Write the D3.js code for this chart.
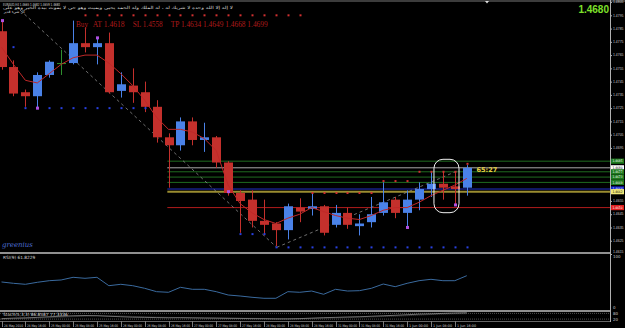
<!DOCTYPE html>
<html>
<head>
<meta charset="utf-8">
<script src="https://d3js.org/d3.v7.min.js"></script>
<style>
body { margin: 0; background: #000; }
svg { display: block; }
</style>
</head>
<body>
<div id="chart"></div>
<script>
// EURAUD H4 candles
var opens  = [1.4783,1.4756,1.4737,1.4734,1.4750,1.4759,1.4759,1.4774,1.4771,1.4774,
              1.4738,1.4742,1.4737,1.4726,1.4703,1.4697,1.4715,1.4701,1.4703,1.4684,
              1.4661,1.4656,1.4640,1.4638,1.4633,1.4650,1.4649,1.4651,1.4637,1.4646,
              1.4636,1.4639,1.4646,1.4656,1.4646,1.4656,1.4664,1.4668,1.4666,1.4665];
var highs  = [1.4791,1.4761,1.4739,1.4752,1.4761,1.4769,1.4791,1.4786,1.4778,1.4782,
              1.4752,1.4755,1.4745,1.4731,1.4706,1.4718,1.4718,1.4714,1.4704,1.4685,
              1.4663,1.4663,1.4656,1.4639,1.4653,1.4657,1.4661,1.4652,1.4652,1.4650,
              1.4645,1.4658,1.4669,1.4658,1.4663,1.4669,1.4677,1.4677,1.4677,1.4682];
var lows   = [1.4754,1.4734,1.4726,1.4725,1.4748,1.4750,1.4758,1.4767,1.4758,1.4736,
              1.4733,1.4729,1.4722,1.4699,1.4665,1.4693,1.4697,1.4692,1.4680,1.4659,
              1.4631,1.4635,1.4629,1.4621,1.4626,1.4639,1.4644,1.4629,1.4635,1.4634,
              1.4629,1.4635,1.4644,1.4642,1.4635,1.4648,1.4658,1.4656,1.4652,1.4659];
var closes = [1.4756,1.4736,1.4734,1.4750,1.4760,1.4759,1.4774,1.4771,1.4774,1.4737,
              1.4743,1.4737,1.4726,1.4703,1.4697,1.4715,1.4701,1.4703,1.4684,1.4661,
              1.4655,1.4640,1.4637,1.4633,1.4651,1.4647,1.4651,1.4631,1.4646,1.4637,
              1.4638,1.4645,1.4654,1.4646,1.4656,1.4664,1.4668,1.4665,1.4664,1.4680];

// red moving average
var maValues = [1.4771,1.4758,1.4746,1.4744,1.4751,1.4758,1.4763,1.4765,1.4765,1.4759,
                1.4751,1.4742,1.4731,1.4718,1.4709,1.4709,1.4707,1.4702,1.4693,1.4667,
                1.4653,1.4646,1.4641,1.4638,1.4642,1.4645,1.4650,1.4647,1.4644,1.4642,
                1.4641,1.4644,1.4648,1.4650,1.4650,1.4654,1.4659,1.4663,1.4667,1.4672];

// RSI(9) and Stochastic(5,3,3)
var rsiValues = [50.5,48.1,46.3,49.9,52.8,54.1,58.9,57.1,58.9,43.8,
                 46.3,43.8,39.1,33.0,31.9,40.9,37.3,37.3,33.0,27.0,
                 25.2,22.9,21.1,21.1,33.0,31.9,34.2,28.3,37.3,34.2,
                 34.8,39.1,46.8,42.0,48.1,52.8,55.3,52.8,52.8,61.8];
var stochMain = [25,30,33,38,45,50,55,58,56,50,45,40,38,36,34,35,33,31,30,28,
                 27,25,24,22,22,25,30,35,38,42,45,50,55,60,66,72,75,80,84,87];
var stochSignal = [20,24,28,32,36,40,46,50,54,54,52,48,44,40,38,36,35,34,32,31,
                   29,28,26,24,24,24,26,30,33,36,40,43,47,51,56,62,68,72,76,77];

// marker rows [first bar, last bar, price]
var redDots = [[7,25,1.4795],[26,31,1.4661],[32,34,1.4670],[35,38,1.4677],[39,39,1.4683]];
var blueDots = [[1,1,1.4771],[2,12,1.4725],[20,22,1.4630],[23,39,1.4620]];
var purpleDots = [[0,1.4791],[3,1.4725],[8,1.4778],[19,1.4662],[34,1.4635],[38,1.4652]];

// dashed trend lines [bar, price]
var trendDown = [[1.55,1.4799],[23.07,1.4620]];
var trendUp = [[23.07,1.4620],[38.3,1.4678]];

// horizontal levels
var levelPrices = [1.4685,1.4680,1.4677,1.4673,1.4669,1.4664,1.4662,1.4650];
var levelColors = ["#1f6b1f","#a8a8a8","#1f6b1f","#1f6b1f","#1f6b1f","#2030c8","#9a8c30","#b01c1c"];
var labelFills  = ["#1e7a1e","#ffffff","#1e7a1e","#1e7a1e","#1e7a1e","#1428d0","#f0e87a","#e01e1e"];

// visible price labels (the ones under the level boxes are hidden in the picture)
var priceTicks = [1.4805,1.4795,1.4785,1.4775,1.4765,1.4755,1.4745,1.4735,1.4725,1.4715,
                  1.4705,1.4695,1.4655,1.4645,1.4635,1.4625,1.4615];
var timeLabels = ["24 May 2010","24 May 16:00","25 May 00:00","25 May 08:00","25 May 16:00",
                  "26 May 00:00","26 May 08:00","26 May 16:00","27 May 00:00","27 May 08:00",
                  "27 May 16:00","28 May 00:00","28 May 08:00","28 May 16:00","31 May 00:00",
                  "31 May 08:00","31 May 16:00","1 Jun 00:00","1 Jun 08:00","1 Jun 16:00"];

var svgWidth = 625;
var svgHeight = 328;
var axisX = 610;

var svg = d3.select("#chart")
    .append("svg")
    .attr("width", svgWidth)
    .attr("height", svgHeight)
    .style("font-family", "DejaVu Sans, sans-serif");

svg.append("rect").attr("width", svgWidth).attr("height", svgHeight).attr("fill", "#000");
svg.append("rect").attr("width", svgWidth).attr("height", 2).attr("fill", "#3c3c3c");

// scales
var x = d3.scaleLinear().domain([0, 51]).range([1.5, 1.5 + 51 * 11.93]);
var y = d3.scaleLinear().domain([1.4615, 1.4805]).range([254, 2.06]);
var yRsi = d3.scaleLinear().domain([0, 100]).range([310, 254.5]);
var yStoch = d3.scaleLinear().domain([0, 100]).range([321, 311.5]);

var bars = d3.range(opens.length).map(function(i) {
    return {i: i, o: opens[i], h: highs[i], l: lows[i], c: closes[i]};
});

var main = svg.append("g");

// horizontal levels
levelPrices.forEach(function(p, k) {
    main.append("line")
        .attr("x1", x(13.9)).attr("x2", axisX)
        .attr("y1", y(p)).attr("y2", y(p))
        .attr("stroke", levelColors[k])
        .attr("stroke-width", k == 6 ? 2 : 1);
});

// dashed trend lines
var trend = d3.line().x(d => x(d[0])).y(d => y(d[1]));
[trendDown, trendUp].forEach(function(t) {
    main.append("path").attr("d", trend(t))
        .attr("fill", "none").attr("stroke", "#8a8a8a")
        .attr("stroke-width", 0.8).attr("stroke-dasharray", "3,3");
});

// candles
var colorOf = function(d) {
    if (d.c > d.o) return "#4a82e8";
    if (d.c < d.o) return "#c4302c";
    return "#2e8f2e";
};
main.selectAll(".wick").data(bars).enter().append("line")
    .attr("x1", d => Math.round(x(d.i)) + 0.5).attr("x2", d => Math.round(x(d.i)) + 0.5)
    .attr("y1", d => y(d.h)).attr("y2", d => y(d.l))
    .attr("stroke", colorOf).attr("stroke-width", 1);
main.selectAll(".body").data(bars).enter().append("rect")
    .attr("x", d => Math.round(x(d.i)) - 4)
    .attr("width", 9)
    .attr("y", d => y(Math.max(d.o, d.c)))
    .attr("height", d => Math.max(1, Math.abs(y(d.o) - y(d.c))))
    .attr("fill", colorOf);

// moving average
main.append("path")
    .attr("d", d3.line().x((d, i) => x(i)).y(d => y(d))(maValues))
    .attr("fill", "none").attr("stroke", "#c02828").attr("stroke-width", 1);

// markers
function dotRows(rows, color) {
    rows.forEach(function(r) {
        d3.range(r[0], r[1] + 1).forEach(function(i) {
            main.append("rect")
                .attr("x", Math.round(x(i)) - 0.5).attr("y", y(r[2]) - 1)
                .attr("width", 2).attr("height", 2).attr("fill", color);
        });
    });
}
dotRows(redDots, "#d03030");
dotRows(blueDots, "#2840e0");
purpleDots.forEach(function(p) {
    main.append("rect")
        .attr("x", Math.round(x(p[0])) - 1).attr("y", y(p[1]) - 1.5)
        .attr("width", 3).attr("height", 3).attr("fill", "#b050e0");
});

// trade text [text, x, width]
var tradeText = [["Buy", 76, 12], ["AT 1.4618", 92.7, 32], ["SL 1.4558", 132.7, 30],
                 ["TP 1.4634 1.4649 1.4668 1.4699", 170.7, 97]];
tradeText.forEach(function(t) {
    main.append("text").attr("x", t[1]).attr("y", 26.5)
        .attr("fill", "#b01a1a")
        .style("font-family", "Liberation Serif, serif").style("font-size", "8.5px")
        .attr("textLength", t[2]).attr("lengthAdjust", "spacingAndGlyphs")
        .text(t[0]);
});

// header
svg.append("text").attr("x", 3).attr("y", 5.5)
    .attr("fill", "#d8d8d8").style("font-size", "4.2px")
    .attr("textLength", 57).attr("lengthAdjust", "spacingAndGlyphs")
    .text("EURAUD,H4  1.4665 1.4682 1.4659 1.4680");
var arabicLines = ["لا إله إلا الله وحده لا شريك له ، له الملك وله الحمد يحيي ويميت وهو حي لا يموت بيده الخير وهو على",
                   "كل شيء قدير"];
var arabicWidths = [230, 22];
arabicLines.forEach(function(t, k) {
    var txt = svg.append("text").attr("x", 0).attr("y", 9.5 + k * 3.8)
        .attr("fill", "#d8d8d8").style("font-size", "4.2px")
        .text(t);
    // scale the line to its width in the picture and pin its left edge at x=3
    var box = txt.node().getBBox();
    var sx = arabicWidths[k] / box.width;
    txt.attr("transform", "translate(" + (3 - box.x * sx) + ",0) scale(" + sx + ",1)");
});

// shift marker
svg.append("path").attr("d", "M485,1 L489,1 L487,3.5 Z").attr("fill", "#e0e0e0");

// big price
svg.append("text").attr("x", 609).attr("y", 12.5).attr("text-anchor", "end")
    .attr("fill", "#7ee02a").style("font-size", "10px").style("font-weight", "bold")
    .style("font-family", "Liberation Sans, Arial, sans-serif")
    .text("1.4680");

// bar timer
svg.append("text").attr("x", 476.5).attr("y", 172)
    .attr("fill", "#e6d040").style("font-size", "6.5px").style("font-weight", "bold")
    .text("65:27");

// white frame around last bars
svg.append("rect")
    .attr("x", x(36.25)).attr("y", 159.3)
    .attr("width", x(38.35) - x(36.25)).attr("height", 53.4)
    .attr("rx", 9).attr("ry", 9)
    .attr("fill", "none").attr("stroke", "#f0f0f0").attr("stroke-width", 1);

// signature
svg.append("text").attr("x", 2).attr("y", 247)
    .attr("fill", "#4d6fd6").style("font-size", "7px").style("font-style", "italic")
    .style("font-family", "DejaVu Serif, serif")
    .text("greenius");

// price axis
var yAxis = d3.axisRight(y).tickValues(priceTicks).tickSize(2).tickFormat(d3.format(".4f"));
var gy = svg.append("g").attr("transform", "translate(" + axisX + ",0)").call(yAxis);
gy.select(".domain").remove();
gy.selectAll("line").attr("stroke", "#b0b0b0");
gy.selectAll("text").attr("x", 3).attr("dy", "0.2em").attr("fill", "#c8c8c8")
    .style("font-size", "3.4px")
    .attr("textLength", 10.5).attr("lengthAdjust", "spacingAndGlyphs");
gy.selectAll(".tick").filter(d => d == 1.4615).select("text").attr("dy", "-0.5em");

// level labels on axis
levelPrices.forEach(function(p, k) {
    svg.append("rect").attr("x", axisX + 1).attr("y", y(p) - 2.6)
        .attr("width", 13).attr("height", 5.2).attr("fill", labelFills[k]);
    svg.append("text").attr("x", axisX + 2.5).attr("y", y(p) + 1.3)
        .attr("fill", (k == 1 || k == 6) ? "#000" : "#fff").style("font-size", "3.3px")
        .attr("textLength", 10).attr("lengthAdjust", "spacingAndGlyphs")
        .text(d3.format(".4f")(p));
});

// panel separators and axis line
[253, 311].forEach(function(v) {
    svg.append("line").attr("x1", 0).attr("x2", axisX).attr("y1", v).attr("y2", v)
        .attr("stroke", "#c0c0c0").attr("stroke-width", 1.5);
});
svg.append("line").attr("x1", axisX + 0.5).attr("x2", axisX + 0.5).attr("y1", 0).attr("y2", 322)
    .attr("stroke", "#b0b0b0").attr("stroke-width", 1);

// RSI panel
svg.append("path")
    .attr("d", d3.line().x((d, i) => x(i)).y(d => yRsi(d))(rsiValues))
    .attr("fill", "none").attr("stroke", "#3a6a9e").attr("stroke-width", 1);
svg.append("text").attr("x", 3).attr("y", 258.5).attr("fill", "#d8d8d8")
    .style("font-size", "4.3px").text("RSI(9) 61.8229");
[[100, "100"], [0, "0"]].forEach(function(t) {
    svg.append("text").attr("x", 613).attr("y", yRsi(t[0]) + (t[0] == 100 ? 3.5 : -1))
        .attr("fill", "#c8c8c8").style("font-size", "4px").text(t[1]);
});

// Stochastic panel
[80, 20].forEach(function(v) {
    svg.append("line").attr("x1", 0).attr("x2", axisX)
        .attr("y1", yStoch(v)).attr("y2", yStoch(v))
        .attr("stroke", "#707070").attr("stroke-width", 0.7).attr("stroke-dasharray", "1,1");
    svg.append("text").attr("x", 613).attr("y", yStoch(v) + 1.5)
        .attr("fill", "#c8c8c8").style("font-size", "4px").text(v);
});
svg.append("path")
    .attr("d", d3.line().x((d, i) => x(i)).y(d => yStoch(d))(stochMain))
    .attr("fill", "none").attr("stroke", "#a0a0a0").attr("stroke-width", 0.7);
svg.append("path")
    .attr("d", d3.line().x((d, i) => x(i)).y(d => yStoch(d))(stochSignal))
    .attr("fill", "none").attr("stroke", "#707070").attr("stroke-width", 0.7)
    .attr("stroke-dasharray", "1,1");
svg.append("text").attr("x", 3).attr("y", 315.5).attr("fill", "#d8d8d8")
    .style("font-size", "4.3px").text("Stoch(5,3,3) 86.8587 77.3336");
svg.append("line").attr("x1", 0).attr("x2", axisX).attr("y1", 321.5).attr("y2", 321.5)
    .attr("stroke", "#909090").attr("stroke-width", 0.7);

// time axis
timeLabels.forEach(function(t, k) {
    var xi = Math.round(x(k * 2)) + 0.5;
    svg.append("line").attr("x1", xi).attr("x2", xi).attr("y1", 321.5).attr("y2", 327)
        .attr("stroke", "#b0b0b0").attr("stroke-width", 0.7);
    svg.append("text").attr("x", xi + 1.5).attr("y", 326.5)
        .attr("fill", "#d0d0d0").style("font-size", "3.4px")
        .attr("textLength", 19).attr("lengthAdjust", "spacingAndGlyphs")
        .text(t);
});
</script>
</body>
</html>
